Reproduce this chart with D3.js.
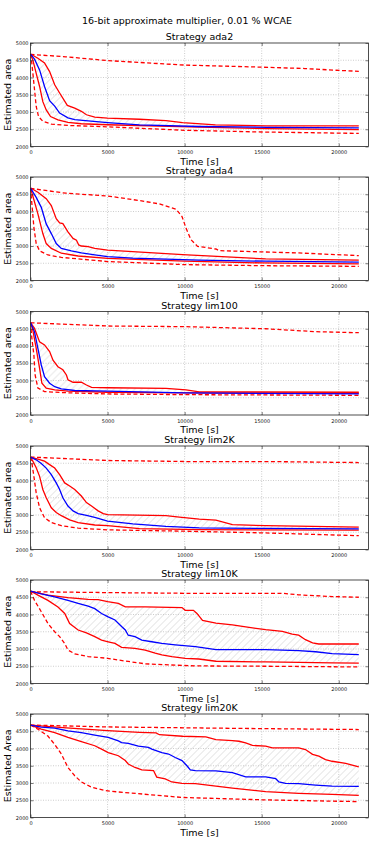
<!DOCTYPE html>
<html>
<head>
<meta charset="utf-8">
<script src="https://cdn.jsdelivr.net/npm/d3@7"></script>
<style>
  body { margin: 0; background: #fff; }
  svg { display: block; font-family: "DejaVu Sans", sans-serif; }
</style>
</head>
<body>
<svg id="chart" width="374" height="841"></svg>
<script>
const strategies = ['ada2', 'ada4', 'lim100', 'lim2K', 'lim10K', 'lim20K'];
const yLabels = ['Estimated area', 'Estimated area', 'Estimated area', 'Estimated area', 'Estimated area', 'Estimated Area'];
const xTicks = [0, 5000, 10000, 15000, 20000];
const yTicks = [2000, 2500, 3000, 3500, 4000, 4500, 5000];

// [time s, area] per curve: max (dashed), q3, median, q1, min (dashed)
const ada2Max = [[0,4670],[2300,4600],[5000,4490],[10000,4360],[15000,4300],[17800,4260],[19800,4210],[21300,4180]];
const ada2Q3 = [[0,4680],[480,4560],[910,4420],[1240,4170],[1570,3790],[1890,3550],[2390,3190],[2870,3110],[3300,3020],[3630,2920],[4170,2850],[5000,2820],[7070,2790],[8790,2750],[9870,2690],[12000,2625],[15300,2600],[21300,2595]];
const ada2Med = [[0,4680],[260,4530],[590,4220],[910,3740],[1240,3330],[1570,3170],[1890,2970],[2430,2830],[2870,2780],[3740,2740],[5000,2690],[7070,2625],[10950,2580],[15300,2555],[21300,2540]];
const ada2Q1 = [[0,4680],[150,4510],[370,4120],[590,3740],[800,3300],[1020,3060],[1300,2870],[1780,2770],[2430,2700],[3300,2660],[5000,2630],[10950,2560],[15300,2520],[21300,2490]];
const ada2Min = [[0,4680],[90,4400],[220,3830],[370,3160],[520,2870],[800,2730],[1350,2650],[2430,2610],[5000,2570],[10000,2470],[15000,2420],[21300,2380]];

const ada4Max = [[0,4670],[2300,4530],[5000,4450],[7070,4317],[8360,4221],[9440,4067],[9830,3856],[10090,3519],[10410,3183],[10840,2990],[12030,2913],[12240,2865],[17410,2798],[21300,2721]];
const ada4Q3 = [[0,4680],[480,4560],[1020,4370],[1350,4170],[1670,3790],[1890,3670],[2100,3650],[2430,3410],[2760,3220],[2980,3170],[3130,3030],[3300,3000],[3740,2980],[4170,2930],[5000,2880],[9870,2750],[15260,2625],[21300,2590]];
const ada4Med = [[0,4680],[370,4410],[700,4120],[1020,3640],[1350,3360],[1670,3070],[2000,2930],[2650,2860],[3300,2800],[4170,2740],[5000,2690],[6640,2650],[10950,2590],[15260,2560],[21300,2530]];
const ada4Q1 = [[0,4680],[200,4370],[480,3930],[800,3360],[1020,3070],[1350,2930],[2000,2790],[3090,2710],[5000,2640],[10000,2560],[15000,2510],[21300,2480]];
const ada4Min = [[0,4680],[90,4220],[220,3540],[370,3070],[590,2860],[1130,2740],[2000,2670],[5000,2550],[10000,2460],[15000,2430],[21300,2410]];

const lim100Max = [[0,4673],[5000,4580],[10090,4560],[15260,4500],[18500,4415],[21300,4385]];
const lim100Q3 = [[0,4680],[260,4510],[590,4120],[910,4030],[1240,3840],[1460,3590],[1780,3400],[2100,3310],[2330,3160],[2430,3020],[2760,2950],[3300,2950],[3630,2870],[3960,2800],[5000,2790],[8790,2770],[10090,2730],[10950,2670],[21300,2660]];
const lim100Med = [[0,4680],[260,4410],[480,3930],[700,3450],[910,3110],[1240,2920],[1570,2820],[2000,2760],[2870,2710],[5000,2690],[10000,2640],[21300,2610]];
const lim100Q1 = [[0,4680],[150,4460],[370,3930],[590,3350],[740,2920],[1020,2780],[1570,2730],[2430,2690],[5000,2660],[10000,2640],[21300,2630]];
const lim100Min = [[0,4680],[90,4220],[220,3740],[300,3160],[480,2780],[910,2680],[2000,2650],[5000,2610],[10000,2590],[21300,2570]];

const lim2KMax = [[0,4680],[1000,4660],[5000,4580],[10090,4550],[15260,4550],[21300,4520]];
const lim2KQ3 = [[0,4680],[480,4620],[910,4560],[1240,4460],[1570,4360],[1890,4170],[2220,3930],[2540,3840],[2870,3740],[3300,3550],[3630,3360],[3960,3260],[4390,3120],[4720,3040],[5000,3010],[8790,2980],[9660,2940],[10950,2880],[12030,2850],[13100,2720],[15260,2690],[21300,2650]];
const lim2KMed = [[0,4680],[370,4600],[700,4490],[1020,4360],[1350,4170],[1670,3930],[1890,3740],[2100,3500],[2430,3260],[2760,3120],[3090,3040],[3630,2990],[4170,2930],[5000,2820],[6640,2740],[8790,2670],[10950,2625],[15260,2610],[21300,2600]];
const lim2KQ1 = [[0,4680],[150,4560],[370,4370],[590,4120],[800,3740],[1020,3500],[1350,3210],[1670,3070],[2000,2980],[2540,2860],[3090,2780],[4170,2710],[5000,2690],[7070,2605],[10950,2575],[21300,2560]];
const lim2KMin = [[0,4680],[90,4510],[220,4120],[370,3640],[590,3210],[910,2920],[1350,2780],[2000,2690],[3090,2620],[5000,2570],[10090,2530],[15260,2480],[21300,2400]];

const lim10KMax = [[0,4660],[5000,4635],[10000,4615],[16340,4615],[17400,4570],[19570,4520],[21300,4500]];
const lim10KQ3 = [[0,4680],[1130,4560],[2430,4490],[3740,4440],[4390,4430],[5000,4370],[5700,4320],[6150,4220],[7440,4220],[9830,4200],[10040,4120],[10570,4120],[10800,4030],[11160,3830],[12030,3750],[13100,3700],[14180,3625],[15260,3560],[16340,3510],[16980,3430],[17400,3400],[17840,3270],[18300,3175],[18700,3145],[21300,3145]];
const lim10KMed = [[0,4680],[700,4600],[1570,4510],[2430,4410],[3090,4320],[3740,4240],[4170,4170],[4610,4030],[5040,3930],[5480,3840],[5910,3650],[6150,3550],[6340,3400],[6780,3360],[7220,3260],[7870,3210],[8520,3160],[9390,3120],[10700,3070],[12030,2980],[15260,2980],[17400,2950],[18500,2920],[19570,2865],[21300,2835]];
const lim10KQ1 = [[0,4680],[480,4560],[1130,4410],[1780,4220],[2220,4030],[2540,3740],[3090,3550],[3630,3470],[4170,3360],[4610,3260],[5040,3210],[5480,3160],[5910,3050],[6780,3020],[7440,2970],[8090,2880],[8520,2830],[9170,2780],[10040,2730],[10920,2710],[12030,2645],[15260,2625],[19570,2600],[21300,2590]];
const lim10KMin = [[0,4680],[260,4410],[700,4080],[1130,3740],[1570,3500],[1890,3360],[2220,3160],[2430,2970],[2870,2860],[3740,2780],[5000,2730],[5700,2680],[6340,2640],[7440,2570],[8950,2540],[10700,2510],[15260,2500],[21300,2480]];

const lim20KMax = [[0,4680],[5000,4625],[10000,4600],[15260,4575],[21300,4550]];
const lim20KQ3 = [[0,4680],[2330,4600],[5000,4520],[7070,4470],[8150,4450],[8360,4400],[9870,4355],[11380,4335],[12030,4260],[13100,4230],[13530,4210],[13960,4160],[14400,4090],[15260,4070],[15690,4020],[17400,4020],[17840,3970],[18300,3830],[18710,3780],[19140,3680],[19570,3630],[20450,3570],[21300,3470]];
const lim20KMed = [[0,4680],[700,4620],[1570,4590],[2430,4510],[3300,4460],[4170,4390],[5040,4320],[5700,4220],[5910,4170],[6340,4150],[7000,4070],[7650,4030],[7870,3980],[8520,3880],[8960,3840],[9390,3740],[9830,3650],[10150,3500],[10370,3380],[10700,3360],[12030,3350],[13100,3300],[13960,3180],[15260,3180],[15910,3125],[16120,3030],[16550,2990],[17400,2980],[18490,2940],[19570,2910],[21300,2900]];
const lim20KQ1 = [[0,4680],[700,4560],[1570,4460],[2430,4320],[3300,4200],[4170,4080],[4610,3980],[5040,3880],[5700,3790],[6150,3650],[6340,3550],[6780,3450],[7220,3380],[7980,3360],[8190,3170],[8740,3120],[9170,3030],[9830,2990],[10700,2980],[12030,2910],[13100,2850],[14180,2800],[15260,2750],[17400,2700],[19570,2670],[21300,2640]];
const lim20KMin = [[0,4680],[480,4560],[1130,4360],[1570,4120],[2000,3840],[2430,3450],[2870,3210],[3300,3030],[3960,2880],[4830,2780],[5700,2740],[9870,2580],[15260,2510],[21300,2460]];

const panels = [
    { max: ada2Max, q3: ada2Q3, med: ada2Med, q1: ada2Q1, min: ada2Min },
    { max: ada4Max, q3: ada4Q3, med: ada4Med, q1: ada4Q1, min: ada4Min },
    { max: lim100Max, q3: lim100Q3, med: lim100Med, q1: lim100Q1, min: lim100Min },
    { max: lim2KMax, q3: lim2KQ3, med: lim2KMed, q1: lim2KQ1, min: lim2KMin },
    { max: lim10KMax, q3: lim10KQ3, med: lim10KMed, q1: lim10KQ1, min: lim10KMin },
    { max: lim20KMax, q3: lim20KQ3, med: lim20KMed, q1: lim20KQ1, min: lim20KMin }
];

const svg = d3.select('#chart');
const left = 30.5, right = 368.5, plotH = 103.5;
const tops = [43, 177, 311.5, 446, 580, 714];

const defs = svg.append('defs');
const hatch = defs.append('pattern')
    .attr('id', 'hatch')
    .attr('patternUnits', 'userSpaceOnUse')
    .attr('width', 7).attr('height', 7);
hatch.append('path')
    .attr('d', 'M-1,1 L1,-1 M0,7 L7,0 M6,8 L8,6')
    .attr('stroke', '#c8c8c8')
    .attr('stroke-width', 0.6);

svg.append('text')
    .attr('x', 187).attr('y', 24)
    .attr('text-anchor', 'middle')
    .attr('font-size', 9.5)
    .text('16-bit approximate multiplier, 0.01 % WCAE');

const x = d3.scaleLinear().domain([0, 21930]).range([0, right - left]);
const y = d3.scaleLinear().domain([2000, 5000]).range([plotH, 0]);
const line = d3.line().x(d => x(d[0])).y(d => y(d[1]));

panels.forEach((p, i) => {
    const g = svg.append('g').attr('transform', `translate(${left},${tops[i]})`);
    const w = right - left;

    defs.append('clipPath').attr('id', 'clip' + i)
        .append('rect').attr('width', w).attr('height', plotH);

    // grid
    g.selectAll('.gx').data(xTicks.slice(1)).enter().append('line')
        .attr('x1', d => x(d)).attr('x2', d => x(d))
        .attr('y1', 0).attr('y2', plotH)
        .attr('stroke', '#9a9a9a').attr('stroke-width', 0.5)
        .attr('stroke-dasharray', '1,1.5');
    g.selectAll('.gy').data(yTicks.slice(1, -1)).enter().append('line')
        .attr('x1', 0).attr('x2', w)
        .attr('y1', d => y(d)).attr('y2', d => y(d))
        .attr('stroke', '#9a9a9a').attr('stroke-width', 0.5)
        .attr('stroke-dasharray', '1,1.5');

    const body = g.append('g').attr('clip-path', `url(#clip${i})`);

    // hatched interquartile band
    const band = p.q3.concat(p.q1.slice().reverse());
    body.append('path')
        .attr('d', line(band) + 'Z')
        .attr('fill', 'url(#hatch)')
        .attr('stroke', 'none');

    const curves = [
        { data: p.max, color: '#ff0000', dash: '4,2.5' },
        { data: p.min, color: '#ff0000', dash: '4,2.5' },
        { data: p.q3, color: '#ff0000', dash: null },
        { data: p.q1, color: '#ff0000', dash: null },
        { data: p.med, color: '#0000ff', dash: null }
    ];
    curves.forEach(c => {
        body.append('path')
            .attr('d', line(c.data))
            .attr('fill', 'none')
            .attr('stroke', c.color)
            .attr('stroke-width', 1.3)
            .attr('stroke-dasharray', c.dash);
    });

    // axes (matplotlib classic: ticks inward)
    const xAxis = d3.axisBottom(x).tickValues(xTicks).tickSize(-3).tickPadding(4).tickFormat(d3.format('d'));
    const yAxis = d3.axisLeft(y).tickValues(yTicks).tickSize(-3).tickPadding(2).tickFormat(d3.format('d'));
    const ax = g.append('g').attr('transform', `translate(0,${plotH})`).call(xAxis);
    const ay = g.append('g').call(yAxis);
    const axT = g.append('g').call(d3.axisTop(x).tickValues(xTicks).tickSize(-3).tickFormat(''));
    const ayR = g.append('g').attr('transform', `translate(${w},0)`).call(d3.axisRight(y).tickValues(yTicks).tickSize(-3).tickFormat(''));
    [ax, ay, axT, ayR].forEach(a => {
        a.select('.domain').remove();
        a.selectAll('line').attr('stroke', '#222').attr('stroke-width', 0.6);
        a.selectAll('text').attr('font-size', 5).attr('fill', '#111')
            .attr('font-family', '"DejaVu Sans", sans-serif');
    });

    g.append('rect')
        .attr('width', w).attr('height', plotH)
        .attr('fill', 'none').attr('stroke', '#222').attr('stroke-width', 0.8);

    g.append('text')
        .attr('x', w / 2).attr('y', -3)
        .attr('text-anchor', 'middle').attr('font-size', 9.5)
        .text('Strategy ' + strategies[i]);

    g.append('text')
        .attr('x', w / 2).attr('y', plotH + 18)
        .attr('text-anchor', 'middle').attr('font-size', 9.5)
        .text('Time [s]');

    g.append('text')
        .attr('transform', `translate(${-left + 11},${plotH / 2}) rotate(-90)`)
        .attr('text-anchor', 'middle').attr('font-size', 9.5)
        .text(yLabels[i]);
});
</script>
</body>
</html>
